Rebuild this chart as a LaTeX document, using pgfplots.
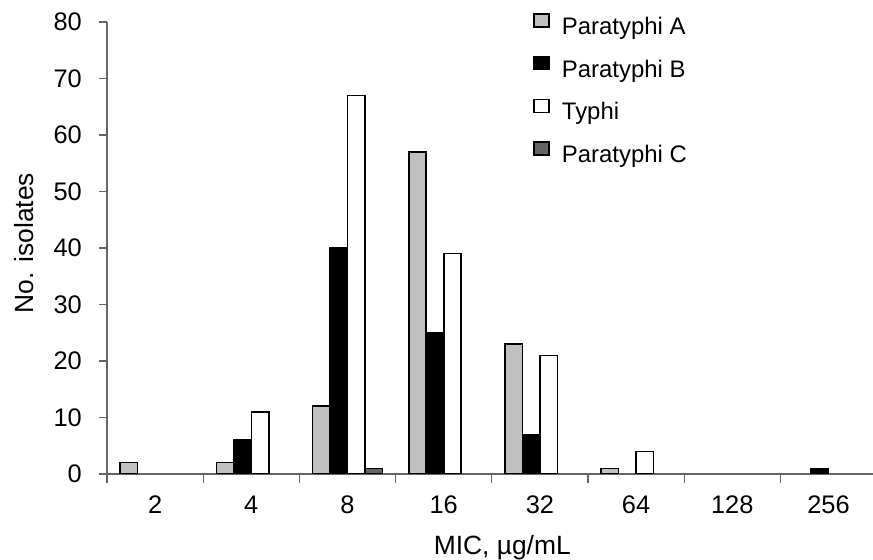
\documentclass[border=0pt]{standalone}
\usepackage{fontspec}
\setmainfont{Liberation Sans}
\usepackage{pgfplots}
\pgfplotsset{compat=1.18}
\definecolor{paraA}{RGB}{192,192,192}
\definecolor{paraC}{RGB}{100,100,100}
\definecolor{axisgray}{RGB}{100,100,100}
\begin{document}
\begin{tikzpicture}[x=1bp,y=1bp]
\useasboundingbox (0,0) rectangle (873,560);
\begin{axis}[
  at={(107bp,86bp)}, anchor=south west,
  scale only axis, width=766bp, height=452bp,
  xmin=-0.5, xmax=7.4626, ymin=0, ymax=80,
  axis x line*=bottom, axis y line*=left,
  axis line style={axisgray, line width=1.2bp},
  ybar=0pt, bar width=17.5bp,
  ytick={0,10,...,80},
  xtick={0,...,7}, xticklabels={2,4,8,16,32,64,128,256},
  minor xtick={-0.5,0.5,...,6.5},
  tick align=outside,
  major tick length=8bp, minor tick length=9bp,
  tick style={axisgray, line width=1.2bp},
  major x tick style={draw=none},
  /pgf/number format/assume math mode=true,
  xticklabel style={font=\fontsize{25.5}{30}\selectfont, anchor=base, inner sep=0pt, yshift=-32bp},
  yticklabel style={font=\fontsize{25.5}{30}\selectfont, anchor=east, inner sep=0pt, xshift=-17bp},
  every axis x label/.style={at={(axis description cs:0.516,-0.177)}, anchor=base, font=\fontsize{26.5}{30}\selectfont},
  every axis y label/.style={at={(axis description cs:-0.0966,0.511)}, rotate=90, anchor=base, font=\fontsize{26.5}{30}\selectfont},
  xlabel={MIC, µg/mL},
  ylabel={No. isolates},
  every axis plot post/.append style={draw=black, line width=1.6bp,
    legend image code/.code={\path[draw=none, fill=none] (0bp,0bp) -- (28bp,0bp);
      \draw[##1, line width=1.6bp] (0bp,1.5bp) rectangle (15bp,14.5bp);}},
  legend style={at={(axis description cs:0.5561,1.0205)}, anchor=north west,
    draw=none, fill=none, inner sep=0pt, row sep=16.5bp,
    font=\fontsize{24}{28}\selectfont,
    nodes={inner sep=0pt, text height=17bp, text depth=5bp}},
  legend cell align=left,
]
% Paratyphi A
\addplot[fill=paraA] coordinates {(0,2) (1,2) (2,12) (3,57) (4,23) (5,1)};
% Paratyphi B
\addplot[fill=black] coordinates {(1,6) (2,40) (3,25) (4,7) (7,1)};
% Typhi
\addplot[fill=white] coordinates {(1,11) (2,67) (3,39) (4,21) (5,4)};
% Paratyphi C
\addplot[fill=paraC] coordinates {(2,1)};
\legend{Paratyphi A, Paratyphi B, Typhi, Paratyphi C}
\end{axis}
\end{tikzpicture}
\end{document}
